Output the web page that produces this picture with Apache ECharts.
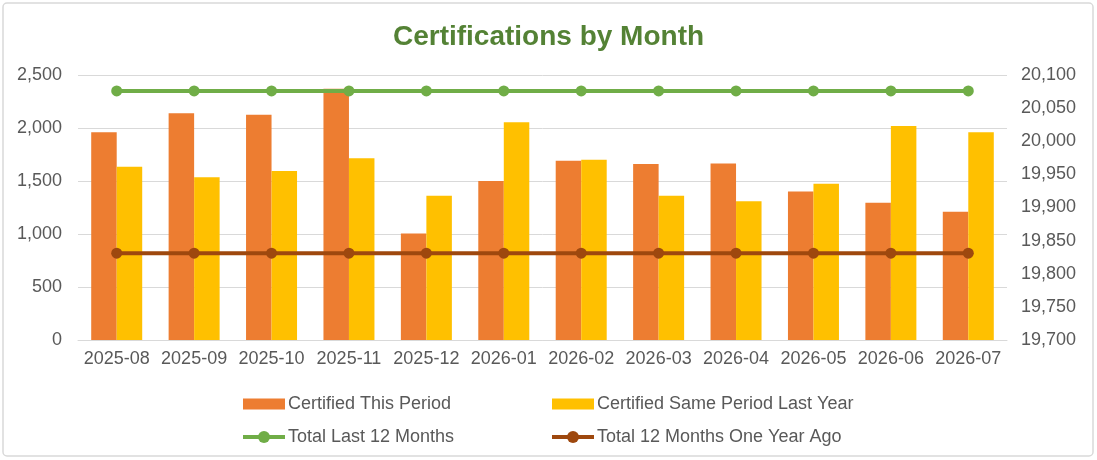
<!DOCTYPE html>
<html>
<head>
<meta charset="utf-8">
<script src="https://cdn.jsdelivr.net/npm/echarts@6/dist/echarts.min.js"></script>
<style>
  html, body { margin: 0; padding: 0; background: #ffffff; }
  #chart { width: 1097px; height: 460px; }
</style>
</head>
<body>
<div id="chart"></div>
<script>
(function(){

    // data
    var months = ['2025-08', '2025-09', '2025-10', '2025-11', '2025-12', '2026-01',
                  '2026-02', '2026-03', '2026-04', '2026-05', '2026-06', '2026-07'];
    var certifiedThisPeriod = [1960, 2140, 2125, 2370, 1005, 1500, 1690, 1660, 1665, 1400, 1295, 1210];
    var certifiedLastYear   = [1635, 1535, 1595, 1715, 1360, 2055, 1700, 1360, 1310, 1475, 2020, 1960];
    var totalLast12         = [20076, 20076, 20076, 20076, 20076, 20076, 20076, 20076, 20076, 20076, 20076, 20076];
    var total12YearAgo      = [19831, 19831, 19831, 19831, 19831, 19831, 19831, 19831, 19831, 19831, 19831, 19831];

    var font = '"Liberation Sans", Arial, sans-serif';
    var labelColor = '#595959';

    var legendText = {
        color: labelColor,
        fontSize: 18,
        fontFamily: font,
        padding: [0, 0, 0, -2]
    };

    var numFormat = function (v) { return v.toLocaleString('en-US'); };

    // one legend per cell of the 2 x 2 legend grid
    function legendCell(name, left, top, isLine) {
        return {
            left: left,
            top: top,
            itemWidth: 42,
            itemHeight: isLine ? 15 : 11,
            textStyle: legendText,
            data: [isLine ? { name: name, lineStyle: { width: 4 } } : { name: name, icon: 'rect' }]
        };
    }

    var option = {
        animation: false,
        backgroundColor: '#ffffff',
        title: {
            text: 'Certifications by Month',
            left: 'center',
            top: 18,
            textStyle: {
                color: '#548235',
                fontSize: 28,
                fontWeight: 'bold',
                fontFamily: font
            }
        },
        graphic: [{
            type: 'rect',
            shape: { x: 3, y: 3, width: 1090, height: 453, r: 4 },
            style: { fill: 'none', stroke: '#d9d9d9', lineWidth: 1.5 },
            silent: true
        }],
        legend: [
            legendCell('Certified This Period', 238, 390, false),
            legendCell('Certified Same Period Last Year', 547, 390, false),
            legendCell('Total Last 12 Months', 236, 423, true),
            legendCell('Total 12 Months One Year Ago', 545, 423, true)
        ],
        grid: {
            left: 78,
            right: 90,
            top: 75,
            bottom: 120,
            containLabel: false
        },
        xAxis: {
            type: 'category',
            data: months,
            axisTick: { show: false },
            axisLine: { lineStyle: { color: '#d9d9d9', width: 1 } },
            axisLabel: {
                interval: 0,
                hideOverlap: false,
                color: labelColor,
                fontSize: 18,
                fontFamily: font,
                margin: 10
            }
        },
        yAxis: [
            {
                type: 'value',
                min: 0,
                max: 2500,
                interval: 500,
                axisLine: { show: false },
                axisTick: { show: false },
                axisLabel: {
                    color: labelColor,
                    fontSize: 18,
                    fontFamily: font,
                    margin: 16,
                    formatter: numFormat
                },
                splitLine: { lineStyle: { color: '#d9d9d9', width: 1 } }
            },
            {
                type: 'value',
                min: 19700,
                max: 20100,
                interval: 50,
                axisLine: { show: false },
                axisTick: { show: false },
                axisLabel: {
                    color: labelColor,
                    fontSize: 18,
                    fontFamily: font,
                    margin: 14,
                    formatter: numFormat
                },
                splitLine: { show: false }
            }
        ],
        series: [
            {
                name: 'Certified This Period',
                type: 'bar',
                barWidth: 25.5,
                barGap: '0%',
                itemStyle: { color: '#ED7D31' },
                data: certifiedThisPeriod
            },
            {
                name: 'Certified Same Period Last Year',
                type: 'bar',
                barWidth: 25.5,
                barGap: '0%',
                itemStyle: { color: '#FFC000' },
                data: certifiedLastYear
            },
            {
                name: 'Total Last 12 Months',
                type: 'line',
                yAxisIndex: 1,
                symbol: 'circle',
                symbolSize: 11,
                lineStyle: { color: '#70AD47', width: 4 },
                itemStyle: { color: '#70AD47' },
                z: 5,
                data: totalLast12
            },
            {
                name: 'Total 12 Months One Year Ago',
                type: 'line',
                yAxisIndex: 1,
                symbol: 'circle',
                symbolSize: 11,
                lineStyle: { color: '#9E480E', width: 4 },
                itemStyle: { color: '#9E480E' },
                z: 5,
                data: total12YearAgo
            }
        ]
    };

    var myChart = echarts.init(document.getElementById('chart'));
    myChart.setOption(option);

})();
</script>
</body>
</html>
